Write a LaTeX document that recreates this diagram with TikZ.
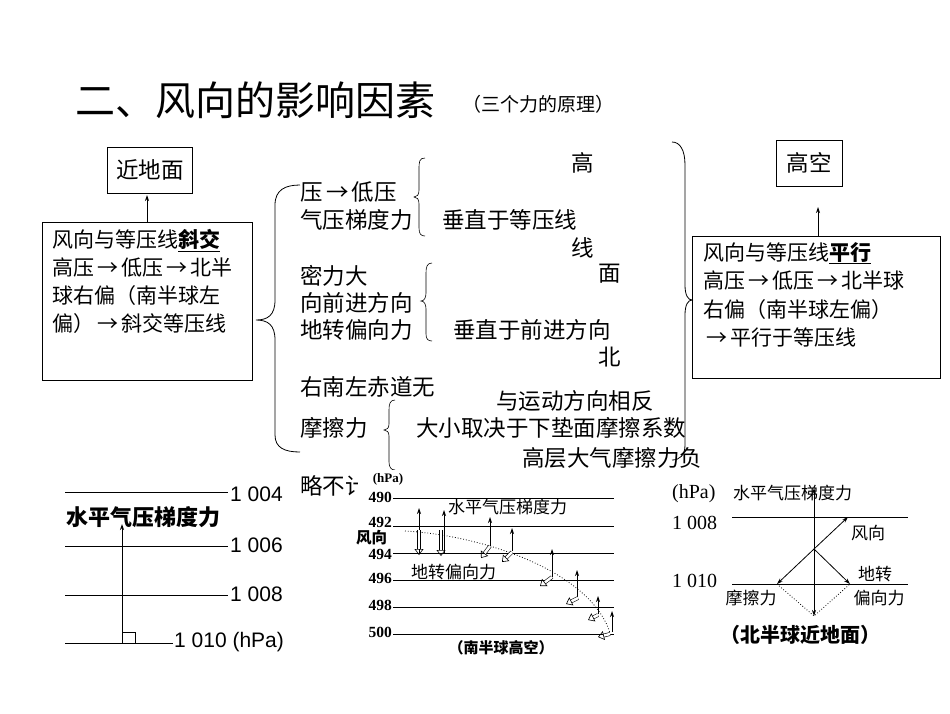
\documentclass[tikz,border=0pt]{standalone}
\usepackage{fontspec}
\setmainfont{Liberation Serif}
\setsansfont{Liberation Sans}
\newfontfamily\cjk{Noto Sans CJK SC}
\newcommand{\ra}{\hspace{0.15em}→\hspace{0.15em}}
\usetikzlibrary{arrows.meta,decorations.pathreplacing}
\begin{document}
\begin{tikzpicture}[x=1pt,y=-1pt,
  txt/.style={font=\cjk\fontsize{22.5}{24}\selectfont,inner sep=0pt,anchor=west},
  sm/.style={font=\cjk\fontsize{17}{19}\selectfont,inner sep=0pt},
  num/.style={font=\fontsize{16}{18}\selectfont,inner sep=0pt},
  bx/.style={draw,line width=0.8pt},
  ln/.style={line width=0.9pt},
  ar/.style={-{Stealth[length=6pt,width=4pt]},line width=0.8pt},
  hol/.style={double,double distance=2.5pt,line width=0.6pt,-{Triangle[open,length=6pt,width=9pt]}}]
\useasboundingbox (0,0) rectangle (950,713);
\node[anchor=west,inner sep=0pt,font=\cjk\fontsize{40}{44}\selectfont] (title) at (75,100) {二、风向的影响因素};
\node[anchor=west,inner sep=0pt,font=\cjk\fontsize{19}{21}\selectfont] (sub) at (462,104) {（三个力的原理）};
% left boxes
\node[bx,minimum width=85pt,minimum height=46pt,txt,anchor=center,inner sep=0pt] (near) at (150,170) {近地面};
\node[bx,anchor=north west,minimum width=210pt,minimum height=158pt,inner sep=0pt] (lbox) at (42,222) {};
\node[txt,align=left,anchor=north west,font=\cjk\fontsize{21}{28}\selectfont] (ltext) at (52,229) {风向与等压线\textbf{\underline{斜交}}\\高压\ra 低压\ra 北半\\球右偏（南半球左\\偏）\ra 斜交等压线};
\draw[ar] (147,222) -- (147,195);
% right boxes
\node[bx,minimum width=66pt,minimum height=46pt,txt,anchor=center] (high) at (809,163) {高空};
\node[bx,anchor=north west,minimum width=248pt,minimum height=142pt,inner sep=0pt] (rbox) at (692,236) {};
\node[txt,align=left,anchor=north west,font=\cjk\fontsize{21}{28.5}\selectfont] (rtext) at (703,242) {风向与等压线\textbf{\underline{平行}}\\高压\ra 低压\ra 北半球\\右偏（南半球左偏）\\\ra 平行于等压线};
\draw[ar] (818,236) -- (818,207);
% braces
\draw[line width=0.8pt] (300,185) .. controls (285,185) and (275,190) .. (275,205) -- (275,300) .. controls (275,315) and (268,320) .. (256,320) .. controls (268,320) and (275,325) .. (275,340) -- (275,435) .. controls (275,448) and (285,452) .. (300,452);
\draw[line width=0.8pt] (672,142) .. controls (680,142) and (685,150) .. (685,165) -- (685,285) .. controls (685,295) and (688,300) .. (692,300) .. controls (688,300) and (685,305) .. (685,315) -- (685,445) .. controls (685,455) and (680,460) .. (672,460);
\draw[line width=0.6pt] (425,158) .. controls (419,158) and (419,162) .. (419,170) -- (419,190) .. controls (419,195) and (417,197) .. (414,197) .. controls (417,197) and (419,199) .. (419,204) -- (419,228) .. controls (419,234) and (421,236) .. (425,236);
\draw[line width=0.6pt] (432,263) .. controls (427,263) and (426,267) .. (426,273) -- (426,293) .. controls (426,298) and (424,301) .. (421,301) .. controls (424,301) and (426,304) .. (426,309) -- (426,334) .. controls (426,339) and (428,341) .. (432,341);
\draw[line width=0.6pt] (395,400) .. controls (390,400) and (389,404) .. (389,410) -- (389,424) .. controls (389,428) and (387,430) .. (384,430) .. controls (387,430) and (389,432) .. (389,436) -- (389,462) .. controls (389,467) and (391,470) .. (395,470);
% middle texts
\node[txt] (t1) at (300,192) {压\ra 低压};
\node[txt] (t2) at (300,220) {气压梯度力};
\node[txt] (t3) at (571,163) {高};
\node[txt] (t4) at (442,220) {垂直于等压线};
\node[txt] (t5) at (571,248) {线};
\node[txt] (t6) at (598,274) {面};
\node[txt] (t7) at (300,276) {密力大};
\node[txt] (t8) at (300,303) {向前进方向};
\node[txt] (t9) at (300,330) {地转偏向力};
\node[txt] (t10) at (453,330) {垂直于前进方向};
\node[txt] (t11) at (598,357) {北};
\node[txt] (t12) at (300,387) {右南左赤道无};
\node[txt] (t13) at (496,401) {与运动方向相反};
\node[txt] (t14) at (300,428) {摩擦力};
\node[txt] (t15) at (416,428) {大小取决于下垫面摩擦系数};
\node[txt] (t16) at (522,458) {高层大气摩擦力负};
\node[txt] (t17) at (300,486) {略不计};
% middle diagram
\fill[white] (358,470) rectangle (640,665);
\node[font=\bfseries\fontsize{13}{14}\selectfont,inner sep=0pt] (hpa2) at (388,479) {(hPa)};
\foreach \v/\yy in {490/498,492/526,494/553,496/580,498/607,500/634}{
  \draw[line width=0.8pt] (393,\yy) -- (614,\yy);}
\foreach \v/\yy in {490/497,492/522,494/554,496/578,498/605,500/632}
  \node[num,anchor=east,font=\bfseries\fontsize{15.5}{16}\selectfont] (m\v) at (392,\yy) {\v};
\node[sm,anchor=west,font=\cjk\bfseries\fontsize{15.5}{17}\selectfont] (mfx) at (356,538) {风向};
\node[sm,anchor=west] (mw) at (448,507) {水平气压梯度力};
\node[sm,anchor=west] (mdz) at (411,572) {地转偏向力};
\node[sm,font=\cjk\bfseries\fontsize{15}{17}\selectfont] (mcap) at (501,648) {（南半球高空）};
\draw[dotted,line width=0.8pt] (405,531) .. controls (480,535) and (590,570) .. (610,633);
\foreach \xa/\ya/\yb in {419/553/508,444/553/510,490/547/517,512/551/528,552/577/549,577/597/570,598/614/596,612/632/611}
  \draw[ar] (\xa,\ya) -- (\xa,\yb);
\draw[hol] (419,530) -- (419,555);
\draw[hol] (441,530) -- (441,556);
\draw[hol] (490,546) -- (481,558);
\draw[hol] (512,552) -- (502,562);
\draw[hol] (552,577) -- (540,586);
\draw[hol] (578,598) -- (566,604);
\draw[hol] (598,615) -- (588,620);
\draw[hol] (610,634) -- (598,637);
% right diagram
\node[font=\fontsize{20}{22}\selectfont,inner sep=0pt,anchor=west] (hpa3) at (672,494) {(hPa)};
\node[sm,anchor=west] (rw) at (733,493) {水平气压梯度力};
\node[num,anchor=west,font=\fontsize{20}{22}\selectfont] (r1008) at (672,523) {1 008};
\node[num,anchor=west,font=\fontsize{20}{22}\selectfont] (r1010) at (672,581) {1 010};
\draw[ln] (732,517) -- (908,517);
\draw[ln] (732,584) -- (908,584);
\coordinate (c) at (814,549);
\coordinate (dn) at (814,616);
\coordinate (fw) at (777,584);
\coordinate (dz) at (850,584);
\draw[ar] (814,549) -- (814,488);
\draw[ar] (814,549) -- (dn);
\draw[ar] (c) -- (848,517);
\draw[ar] (c) -- (fw);
\draw[ar] (c) -- (dz);
\draw[dotted,line width=0.8pt] (fw) -- (dn) -- (dz);
\node[sm] (rfx) at (868,533) {风向};
\node[sm] (rdz) at (875,574) {地转};
\node[sm] (rpx) at (879,598) {偏向力};
\node[sm] (rmc) at (751,598) {摩擦力};
\node[sm,font=\cjk\bfseries\fontsize{20}{22}\selectfont] (rcap) at (800,635) {（北半球近地面）};
% left diagram
\draw[ln] (65,492) -- (228,492);
\draw[ln] (65,546) -- (228,546);
\draw[ln] (65,595) -- (228,595);
\draw[ln] (65,643) -- (173,643);
\foreach \n/\yy in {4/494,6/545,8/594}
  \node[num,anchor=west,font=\sffamily\fontsize{21}{23}\selectfont] (l\n) at (230,\yy) {1 00\n};
\node[num,anchor=west,font=\sffamily\fontsize{21}{23}\selectfont] (l10) at (174,642) {1 010 (hPa)};
\node[anchor=west,inner sep=0pt,font=\cjk\bfseries\fontsize{22}{24}\selectfont] (lw) at (66,517) {水平气压梯度力};
\draw[ar] (122,643) -- (122,524);
\draw[line width=0.8pt] (122,632) -- (135,632) -- (135,643);
\end{tikzpicture}
\end{document}
